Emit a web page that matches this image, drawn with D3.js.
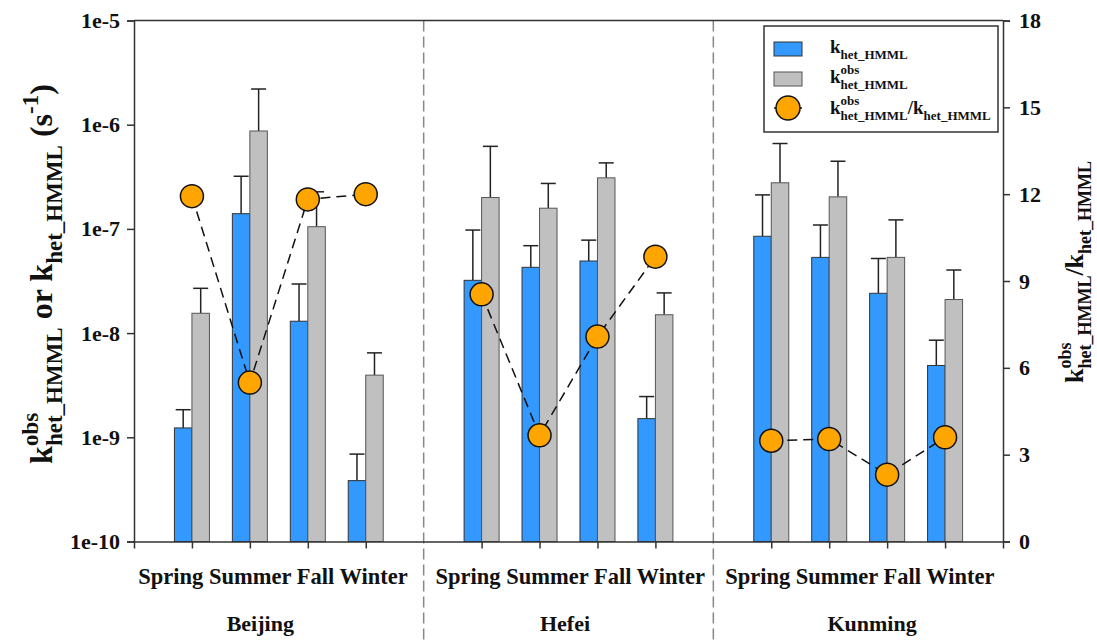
<!DOCTYPE html>
<html>
<head>
<meta charset="utf-8">
<script src="https://cdn.jsdelivr.net/npm/d3@7"></script>
<style>
  html, body { margin: 0; padding: 0; background: #fff; }
  svg text { font-family: "Liberation Serif", "Times New Roman", serif; font-weight: bold; fill: #111; }
</style>
</head>
<body>
<svg id="chart" width="1097" height="642"></svg>
<script>
// Cities and seasons on the x axis
const cities = ["Beijing", "Hefei", "Kunming"];
const seasons = ["Spring", "Summer", "Fall", "Winter"];

// k_het_HMML (s^-1), one value per city/season, with +SD
const kHet    = [1.23e-9, 1.40e-7, 1.30e-8, 3.84e-10, 3.21e-8, 4.28e-8, 4.92e-8, 1.51e-9, 8.5e-8, 5.33e-8, 2.41e-8, 4.89e-9];
const kHetSD  = [6.1e-10, 1.8e-7, 1.66e-8, 3.06e-10, 6.54e-8, 2.62e-8, 2.88e-8, 9.5e-10, 1.27e-7, 5.57e-8, 2.79e-8, 3.66e-9];

// k^obs_het_HMML (s^-1), with +SD
const kObs    = [1.55e-8, 8.7e-7, 1.05e-7, 3.95e-9, 2.0e-7, 1.58e-7, 3.09e-7, 1.5e-8, 2.77e-7, 2.03e-7, 5.33e-8, 2.1e-8];
const kObsSD  = [1.14e-8, 1.33e-6, 1.22e-7, 2.51e-9, 4.2e-7, 1.15e-7, 1.21e-7, 9.3e-9, 3.83e-7, 2.43e-7, 6.87e-8, 1.93e-8];

// Ratio k^obs / k (right axis)
const ratio   = [11.93, 5.49, 11.82, 12.0, 8.54, 3.67, 7.08, 9.84, 3.48, 3.54, 2.31, 3.6];

// Axis ticks
const leftTicks  = [1e-10, 1e-9, 1e-8, 1e-7, 1e-6, 1e-5];
const rightTicks = [0, 3, 6, 9, 12, 15, 18];

// Label anchors along the slot axis (season row, city row)
const seasonRowAt = [2.4, 7.53, 12.53];
const cityRowAt   = [2.18, 7.44, 12.74];

const svg = d3.select("#chart");
const W = 1097, H = 642;
const pL = 134, pR = 1003, pT = 20.5, pB = 541.5;

svg.append("rect").attr("width", W).attr("height", H).attr("fill", "#fff");

// 5 slots per city: 4 seasons plus a gap at the city boundary
const x = d3.scaleLinear().domain([0, 15]).range([pL, pR]);
const y = d3.scaleLog().domain([1e-10, 1e-5]).range([pB, pT]);
const yR = d3.scaleLinear().domain([0, 18]).range([pB, pT]);

const rows = [];
cities.forEach((c, ci) => seasons.forEach((s, si) => {
  const i = ci * 4 + si;
  rows.push({ city: ci, season: s, slot: ci * 5 + si + 1,
    kHet: kHet[i], kHetSD: kHetSD[i], kObs: kObs[i], kObsSD: kObsSD[i], ratio: ratio[i] });
}));

const barW = 17.5;
const blue = "#3399ff", grey = "#c0c0c0";

// Error bars (upper only) drawn first, bars on top
function errBars(cls, offset, key, sd) {
  const g = svg.append("g").attr("class", cls);
  rows.forEach(d => {
    const cx = x(d.slot) + offset;
    const y1 = y(d[key]), y2 = y(d[key] + d[sd]);
    g.append("line").attr("x1", cx).attr("x2", cx).attr("y1", y1).attr("y2", y2)
      .attr("stroke", "#222").attr("stroke-width", 1.5);
    g.append("line").attr("x1", cx - 7.5).attr("x2", cx + 7.5).attr("y1", y2).attr("y2", y2)
      .attr("stroke", "#222").attr("stroke-width", 1.5);
  });
}
errBars("err-het", -barW / 2, "kHet", "kHetSD");
errBars("err-obs", barW / 2, "kObs", "kObsSD");

svg.append("g").selectAll("rect").data(rows).join("rect")
  .attr("x", d => x(d.slot) - barW).attr("width", barW)
  .attr("y", d => y(d.kHet)).attr("height", d => pB - y(d.kHet))
  .attr("fill", blue).attr("stroke", "#333").attr("stroke-width", 1);

svg.append("g").selectAll("rect").data(rows).join("rect")
  .attr("x", d => x(d.slot)).attr("width", barW)
  .attr("y", d => y(d.kObs)).attr("height", d => pB - y(d.kObs))
  .attr("fill", grey).attr("stroke", "#555").attr("stroke-width", 1);

// City separators
[5, 10].forEach(s => {
  svg.append("line").attr("x1", x(s)).attr("x2", x(s)).attr("y1", pT).attr("y2", H)
    .attr("stroke", "#888").attr("stroke-width", 1.5).attr("stroke-dasharray", "11,5");
});

// Axes
const axL = svg.append("g").attr("transform", `translate(${pL},0)`)
  .call(d3.axisLeft(y).tickValues(leftTicks).tickSize(7).tickFormat(d => "1e" + Math.round(Math.log10(d))));
const axR = svg.append("g").attr("transform", `translate(${pR},0)`)
  .call(d3.axisRight(yR).tickValues(rightTicks).tickSize(7).tickFormat(d3.format("d")));
const axB = svg.append("g").attr("transform", `translate(0,${pB})`)
  .call(d3.axisBottom(x).tickValues(rows.map(d => d.slot)).tickSize(7).tickFormat(""));
[axL, axR, axB].forEach(a => {
  a.select(".domain").attr("stroke", "#333").attr("stroke-width", 1.5);
  a.selectAll(".tick line").attr("stroke", "#333").attr("stroke-width", 1.5);
  a.selectAll("text").style("font-size", "22px").attr("fill", "#111")
    .style("font-family", '"Liberation Serif", "Times New Roman", serif').style("font-weight", "bold");
});
axL.selectAll(".tick text").attr("x", -14);
axR.selectAll(".tick text").attr("x", 16);
svg.append("line").attr("x1", pL).attr("x2", pR).attr("y1", pT).attr("y2", pT)
  .attr("stroke", "#333").attr("stroke-width", 1.5);

// Ratio lines (one per city) and markers
const line = d3.line().x(d => x(d.slot)).y(d => yR(d.ratio));
cities.forEach((c, ci) => {
  svg.append("path").datum(rows.filter(d => d.city === ci)).attr("d", line)
    .attr("fill", "none").attr("stroke", "#111").attr("stroke-width", 1.5).attr("stroke-dasharray", "10,6");
});
svg.append("g").selectAll("circle").data(rows).join("circle")
  .attr("cx", d => x(d.slot)).attr("cy", d => yR(d.ratio)).attr("r", 11.5)
  .attr("fill", "#ffa500").attr("stroke", "#111").attr("stroke-width", 1.5);

// Season labels (one line per city) and city names
cities.forEach((c, ci) => {
  svg.append("text").attr("x", x(seasonRowAt[ci])).attr("y", 584).attr("text-anchor", "middle")
    .style("font-size", "22.5px").text(seasons.join(" "));
  svg.append("text").attr("x", x(cityRowAt[ci])).attr("y", 631).attr("text-anchor", "middle")
    .style("font-size", "22px").text(c);
});

// Rich text: main glyphs with stacked super/subscripts
function rich(g, pieces, F, S) {
  let cx = 0;
  pieces.forEach(p => {
    if (p.t !== undefined) {
      const t = g.append("text").attr("x", cx).attr("y", 0).style("font-size", F + "px")
        .style("white-space", "pre").text(p.t);
      cx += t.node().getComputedTextLength();
    } else {
      let w = 0;
      if (p.sub) {
        const t = g.append("text").attr("x", cx).attr("y", 0.32 * F).style("font-size", S + "px").text(p.sub);
        w = Math.max(w, t.node().getComputedTextLength());
      }
      if (p.sup) {
        const t = g.append("text").attr("x", cx).attr("y", -0.45 * F).style("font-size", S + "px").text(p.sup);
        w = Math.max(w, t.node().getComputedTextLength());
      }
      cx += w;
    }
  });
  return cx;
}

// Left axis title
const gl = svg.append("g");
const wl = rich(gl, [{ t: "k" }, { sup: "obs", sub: "het_HMML" }, { t: " or " }, { t: "k" }, { sub: "het_HMML" },
  { t: " (s" }, { sup: "-1" }, { t: ")" }], 32, 23);
gl.attr("transform", `translate(52,274) rotate(-90) translate(${-wl / 2},0)`);

// Right axis title
const gr = svg.append("g");
const wr = rich(gr, [{ t: "k" }, { sup: "obs", sub: "het_HMML" }, { t: "/k" }, { sub: "het_HMML" }], 26, 18);
gr.attr("transform", `translate(1083,272) rotate(-90) translate(${-wr / 2},0)`);

// Legend
const lg = svg.append("g");
lg.append("rect").attr("x", 764).attr("y", 26).attr("width", 234).attr("height", 106)
  .attr("fill", "#fff").attr("stroke", "#333").attr("stroke-width", 1.5);
lg.append("rect").attr("x", 774).attr("y", 42).attr("width", 28).attr("height", 14)
  .attr("fill", blue).attr("stroke", "#333").attr("stroke-width", 1);
lg.append("rect").attr("x", 774).attr("y", 72).attr("width", 28).attr("height", 14)
  .attr("fill", grey).attr("stroke", "#555").attr("stroke-width", 1);
lg.append("line").attr("x1", 774).attr("x2", 802).attr("y1", 108).attr("y2", 108)
  .attr("stroke", "#111").attr("stroke-width", 1.5);
lg.append("circle").attr("cx", 788).attr("cy", 108).attr("r", 12)
  .attr("fill", "#ffa500").attr("stroke", "#111").attr("stroke-width", 1.5);
const l1 = lg.append("g").attr("transform", "translate(830,53)");
rich(l1, [{ t: "k" }, { sub: "het_HMML" }], 19, 13);
const l2 = lg.append("g").attr("transform", "translate(830,83)");
rich(l2, [{ t: "k" }, { sup: "obs", sub: "het_HMML" }], 19, 13);
const l3 = lg.append("g").attr("transform", "translate(830,114)");
rich(l3, [{ t: "k" }, { sup: "obs", sub: "het_HMML" }, { t: "/k" }, { sub: "het_HMML" }], 19, 13);
</script>
</body>
</html>
